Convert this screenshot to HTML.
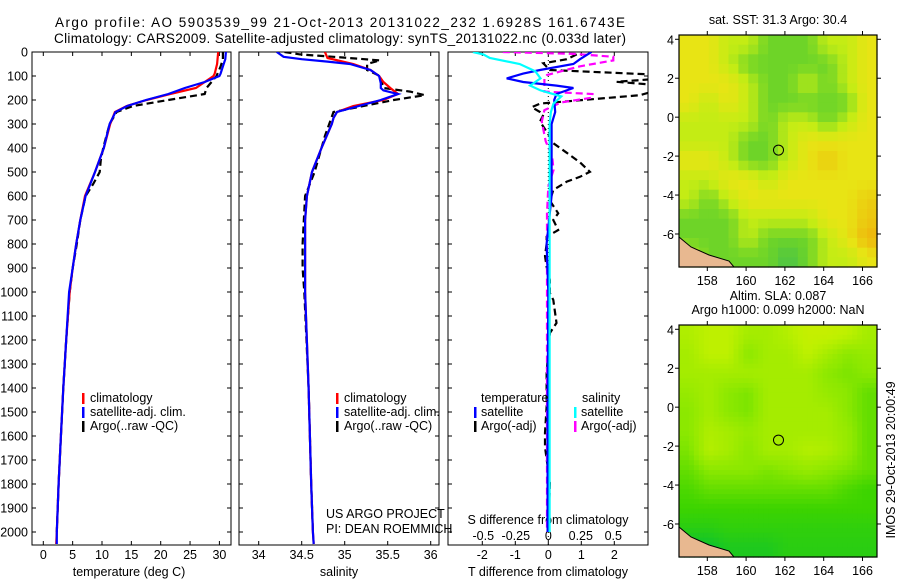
<!DOCTYPE html>
<html><head><meta charset="utf-8">
<style>
html,body{margin:0;padding:0;background:#fff;}
svg{display:block;font-family:"Liberation Sans",sans-serif;}
text{font-size:12.5px;fill:#000;}
</style></head>
<body>
<svg id="fig" width="900" height="580" viewBox="0 0 900 580" xmlns="http://www.w3.org/2000/svg">
<text x="340" y="27" text-anchor="middle" textLength="570" lengthAdjust="spacing" style="font-size:13.5px">Argo profile: AO 5903539_99 21-Oct-2013 20131022_232 1.6928S 161.6743E</text>
<text x="340" y="43" text-anchor="middle" textLength="572" lengthAdjust="spacing" style="font-size:13.5px">Climatology: CARS2009. Satellite-adjusted climatology: synTS_20131022.nc (0.033d later)</text>
<g id="g"></g>
</svg>
<script>
// ---------- data ----------
const tDepthRed = [0,50,90,100,150,175,200,225,250,275,300,400,500,600,700,800,900,1000,1200,1400,1600,1800,2000,2050];
const tempRed   = [29.8,29.6,29.2,29,26,21.6,17.6,14.2,12.2,11.8,11.4,10.3,8.8,7.1,6.3,5.6,5.0,4.5,3.9,3.4,3.0,2.6,2.3,2.2];
const tDepthBlue = [0,30,60,90,100,125,150,175,200,225,250,275,300,400,500,600,700,800,900,1000,1200,1400,1600,1800,2000,2050];
const tempBlue   = [31.1,31.0,30.6,30.2,30,27.5,24.1,21.3,17.5,14.3,12.3,11.8,11.3,10.3,8.8,7.2,6.3,5.6,5.0,4.4,3.9,3.4,3.0,2.6,2.3,2.3];
const tDepthArgo = [0,30,60,100,150,175,200,225,250,275,300,400,450,500,550,600,700,800,900,1000,1200,1400,1600,1800,2000];
const tempArgo   = [30.6,30.6,30.2,29.5,27.8,27.5,21.3,15.3,12.5,11.9,11.3,10.2,9.8,9.6,8.5,7.2,6.3,5.7,5.0,4.5,3.9,3.4,3.0,2.6,2.3];

const sDepthRed = [0,25,50,75,100,125,150,175,200,225,250,275,300,400,500,600,700,1000,1400,1800,2000,2050];
const salRed    = [34.77,34.8,35.1,35.3,35.4,35.45,35.53,35.62,35.45,35.1,34.91,34.87,34.85,34.73,34.62,34.56,34.54,34.54,34.58,34.61,34.63,34.64];
const sDepthBlue = [0,20,30,40,50,75,100,130,150,160,175,200,250,275,300,400,500,600,700,1000,1400,1800,2000,2050];
const salBlue    = [34.21,34.29,34.5,34.8,35.06,35.3,35.4,35.42,35.42,35.45,35.62,35.42,34.91,34.87,34.85,34.73,34.62,34.56,34.54,34.54,34.58,34.61,34.63,34.64];
const sDepthArgo = [0,10,20,35,50,75,100,150,165,180,200,250,350,500,600,800,900,1000,1400,1800,2000];
const salArgo    = [34.3,34.48,34.87,35.41,35.26,35.26,35.41,35.45,35.76,35.93,35.57,34.87,34.77,34.65,34.54,34.51,34.51,34.53,34.58,34.61,34.63];

const dDepthTsat = [0,30,50,75,90,110,125,140,150,175,200,250,300,600,800,1000,1500,2000];
const diffTsat   = [1.31,0.96,0.76,-0.25,-0.76,-1.26,-0.76,0.25,0.76,0.25,0.18,0.21,0.1,0.1,-0.05,0,-0.02,-0.02];
const dDepthTargo = [10,30,47,75,96,110,124,140,151,180,200,215,230,250,262,290,311,353,380,420,460,499,520,540,575,620,672,700,742,770,800,850,895,950,1005,1033,1129,1171,1337,1479,1587,1646,1796,2000];
const diffTargo   = [0.86,0.56,-0.15,0.05,3.5,3.5,2.07,3.5,3.5,2.78,1.05,-0.25,-0.5,-0.25,-0.15,-0.25,-0.15,0.05,0.15,0.56,0.96,1.26,0.96,0.56,0.15,0.05,0.3,0.15,0.3,-0.05,-0.05,-0.1,-0.05,0.05,0.05,0.15,0.25,0.05,-0.05,-0.05,-0.1,-0.1,0.05,0];
const dDepthSsat = [0,10,25,50,80,110,140,160,185,215,250,300,1000,2000];
const diffSsat   = [-0.58,-0.5,-0.45,-0.22,-0.1,-0.06,-0.14,-0.06,0.1,0.04,0.02,0.01,0.01,0.01];
const dDepthSargo = [0,8,20,35,60,96,110,165,175,190,210,242,290,345,372,436,492,561,672,1000,2000];
const diffSargo   = [-0.35,0.2,0.5,0.5,0.24,-0.01,-0.03,-0.03,0.34,0.34,0.1,-0.03,-0.05,-0.03,-0.02,0.03,0.04,0.0,-0.01,-0.01,-0.01];

const depthTicks = [0,100,200,300,400,500,600,700,800,900,1000,1100,1200,1300,1400,1500,1600,1700,1800,1900,2000];
const tempTicks = [0,5,10,15,20,25,30];
const salTicks = [34,34.5,35,35.5,36];
const tdiffTicks = [-2,-1,0,1,2];
const sdiffTicks = [-0.5,-0.25,0,0.25,0.5];
const sdiffTickLabels = ['-0.5','-0.25','0','0.25','0.5'];
const lonTicks = [158,160,162,164,166];
const latTicks = [4,2,0,-2,-4,-6];
const argoLon = 161.67, argoLat = -1.69;

// SST map grid (0=orange,1=yellow,2=yellow-green,3=green,4=teal), rows north->south
const sstGrid = [
[1,1,2,2,3,3,3,2,2,1],
[1,1,2,3,3,3,3,3,2,1],
[1,1,1,2,3,3,2,3,2,1],
[1,2,1,2,3,3,3,3,3,1],
[2,2,2,2,3,2,2,3,2,1],
[2,2,2,3,3,2,1,1,1,1],
[1,1,2,3,3,2,1,0.5,1,1],
[2,2,1,1,2,1,1,1,1,1],
[2,3,2,1,1,1,1,1,1,0.6],
[3,3,3,2,2,2,2,1,1,0.5],
[3,3,3,2,3,3,3,2,1,0.2],
[2,3,3,3,3,3.5,3,2,2,1]];
// SLA map grid (1=yellow-green ... 4=green)
const slaGrid = [
[1.3,1,1,1.5,1.5,1.2,0.8,0.8,1,1.5],
[1.5,1,1,2,1.5,1.5,1,1.5,2,1.8],
[1.5,1.5,1.5,1.5,1.5,1.5,1.5,2,2.2,2],
[1.8,1.5,2,2.2,1.5,1.5,1.5,1.8,2,2.5],
[2,1.5,2,2.2,1.5,1.5,1.5,1.5,2,2.5],
[2,1.3,1.5,1.8,1.5,1.5,1.5,1.5,1.8,2.5],
[2.2,1.2,1.5,2,1.5,1.5,1.2,1.3,1.8,2.5],
[2.5,2,2,2,2.2,2,1.8,2,2.2,2.5],
[2.8,2.5,2.5,2.5,2.5,2.5,2.5,2.5,2.8,3],
[3,3,3,3,3,3,3,3,3,3],
[3.3,3.3,3.2,3.2,3.2,3.2,3.2,3.2,3.2,3.2],
[3.8,3.8,3.5,3.5,3.5,3.3,3.3,3.3,3.3,3.3]];

// ---------- helpers ----------
const NS = 'http://www.w3.org/2000/svg';
const G = document.getElementById('g');
function mk(tag, attrs, parent){const e=document.createElementNS(NS,tag);for(const k in attrs)e.setAttribute(k,attrs[k]);(parent||G).appendChild(e);return e;}
function txt(x,y,s,anchor,size){const t=mk('text',{x:x,y:y,'text-anchor':anchor||'middle'});if(size)t.style.fontSize=size+'px';t.textContent=s;return t;}
const yTop=52, pxPerM=0.24, yBot=545;
const yD = d => yTop + d*pxPerM;
const xT = v => 43.3 + v*5.87;
const xS = v => 258.7 + (v-34)*86;
const xTd = v => 548.3 + v*33;
const xSd = v => 548.3 + v*130;

function frame(x0,x1,name){
  const r=mk('rect',{x:x0,y:yTop,width:x1-x0,height:yBot-yTop,fill:'none',stroke:'#000','stroke-width':1});
  
  
}
function line(depths, vals, xf, color, dash, name, clipId){
  let d='';
  for(let i=0;i<depths.length;i++){d+=(i?'L':'M')+xf(vals[i]).toFixed(1)+','+yD(depths[i]).toFixed(1);}
  const p=mk('path',{d:d,fill:'none',stroke:color,'stroke-width':2.2});
  if(dash)p.setAttribute('stroke-dasharray',dash);
  if(clipId)p.setAttribute('clip-path','url(#'+clipId+')');
  
  
}
const defs=mk('defs',{});
[['c1',32,231],['c2',239,439],['c3',448,648]].forEach(c=>{const cp=mk('clipPath',{id:c[0]},defs);mk('rect',{x:c[1],y:yTop,width:c[2]-c[1],height:yBot-yTop},cp);});

// ---------- depth axis ----------
depthTicks.forEach(d=>{const t=txt(28,yD(d)+4.5,String(d),'end');
  
  });
[[32,231],[239,439],[448,648]].forEach(p=>{depthTicks.forEach(d=>{mk('line',{x1:p[0],x2:p[0]+4,y1:yD(d),y2:yD(d),stroke:'#000'});mk('line',{x1:p[1],x2:p[1]-4,y1:yD(d),y2:yD(d),stroke:'#000'});});});

// ---------- panel 1 temperature ----------
frame(32,231,'temperature-panel');
tempTicks.forEach(v=>{mk('line',{x1:xT(v),x2:xT(v),y1:yBot,y2:yBot-4,stroke:'#000'});mk('line',{x1:xT(v),x2:xT(v),y1:yTop,y2:yTop+4,stroke:'#000'});
  const t=txt(xT(v),559,String(v));
  
  });
let t1=txt(129,576,'temperature (deg C)');


line(tDepthArgo,tempArgo,xT,'#000','7,4','temperature-argo-line','c1');
line(tDepthRed,tempRed,xT,'#f00',null,'temperature-climatology-line','c1');
line(tDepthBlue,tempBlue,xT,'#00f',null,'temperature-satellite-line','c1');

// ---------- panel 2 salinity ----------
frame(239,439,'salinity-panel');
salTicks.forEach(v=>{mk('line',{x1:xS(v),x2:xS(v),y1:yBot,y2:yBot-4,stroke:'#000'});mk('line',{x1:xS(v),x2:xS(v),y1:yTop,y2:yTop+4,stroke:'#000'});
  const t=txt(xS(v),559,String(v));
  
  });
let t2=txt(339,576,'salinity');


line(sDepthArgo,salArgo,xS,'#000','7,4','salinity-argo-line','c2');
line(sDepthRed,salRed,xS,'#f00',null,'salinity-climatology-line','c2');
line(sDepthBlue,salBlue,xS,'#00f',null,'salinity-satellite-line','c2');
let t3=txt(326,518,'US ARGO PROJECT','start');


let t4=txt(326,533,'PI: DEAN ROEMMICH','start');



// legends panels 1 & 2
[[82,'temp'],[336,'sal']].forEach(L=>{
  [['#f00','climatology'],['#00f','satellite-adj. clim.'],['#000','Argo(..raw -QC)']].forEach((e,i)=>{
    const y=402+i*14;
    mk('rect',{x:L[0],y:y-9,width:2.5,height:11,fill:e[0]});
    const t=txt(L[0]+8,y,e[1],'start');
    
    
  });
});

// ---------- panel 3 differences ----------
frame(448,648,'difference-panel');
mk('line',{x1:xTd(0),x2:xTd(0),y1:yTop,y2:yBot,stroke:'#000','stroke-dasharray':'1,3'});
tdiffTicks.forEach(v=>{mk('line',{x1:xTd(v),x2:xTd(v),y1:yBot,y2:yBot-4,stroke:'#000'});mk('line',{x1:xTd(v),x2:xTd(v),y1:yTop,y2:yTop+4,stroke:'#000'});
  const t=txt(xTd(v),559,String(v));
  
  });
sdiffTicks.forEach((v,i)=>{const t=txt(xSd(v),540,sdiffTickLabels[i]);
  
  });
let t5=txt(548,524,'S difference from climatology');


let t6=txt(548,576,'T difference from climatology');


line(dDepthTargo,diffTargo,xTd,'#000','7,4','t-diff-argo-line','c3');
line(dDepthSargo,diffSargo,xSd,'#f0f','7,4','s-diff-argo-line','c3');
line(dDepthTsat,diffTsat,xTd,'#00f',null,'t-diff-satellite-line','c3');
line(dDepthSsat,diffSsat,xSd,'#0ff',null,'s-diff-satellite-line','c3');
let lt=txt(481,402,'temperature','start');


let ls=txt(582,402,'salinity','start');


[[474,'#00f','satellite',416],[474,'#000','Argo(-adj)',430],[574,'#0ff','satellite',416],[574,'#f0f','Argo(-adj)',430]].forEach(e=>{
  mk('rect',{x:e[0],y:e[3]-9,width:2.5,height:11,fill:e[1]});
  const t=txt(e[0]+7,e[3],e[2],'start');
  
  
});

// ---------- maps ----------
const mX0=679, mX1=877;
const xLon = v => 707.3 + (v-158)*19.4;
function lerpC(stops, v){
  for(let i=0;i<stops.length-1;i++){const a=stops[i],b=stops[i+1];
    if(v<=b[0]){const f=Math.max(0,(v-a[0])/(b[0]-a[0]));return 'rgb('+[0,1,2].map(k=>Math.round(a[1][k]+(b[1][k]-a[1][k])*f)).join(',')+')';}}
  return 'rgb('+stops[stops.length-1][1].join(',')+')';
}
const sstStops=[[0,[240,170,10]],[1,[232,228,20]],[2,[196,236,20]],[3,[110,212,40]],[4,[40,180,100]]];
const slaStops=[[0,[225,235,0]],[1,[190,240,0]],[2,[140,232,0]],[3,[60,212,0]],[4,[0,190,60]]];
function sampleGrid(grid, fr, fc){
  const rows=grid.length, cols=grid[0].length;
  const r=Math.min(Math.max(fr,0),rows-1), c=Math.min(Math.max(fc,0),cols-1);
  const r0=Math.floor(r), c0=Math.floor(c), r1=Math.min(r0+1,rows-1), c1=Math.min(c0+1,cols-1);
  const a=r-r0, b=c-c0;
  return grid[r0][c0]*(1-a)*(1-b)+grid[r0][c1]*(1-a)*b+grid[r1][c0]*a*(1-b)+grid[r1][c1]*a*b;
}
function map(yT, grid, stops, name, title1, title2, up){
  const yB=yT+232, lat0=4.22, latPx=19.47;
  const yLat = v => yT + (lat0-v)*latPx;
  const rows=grid.length*up, cols=grid[0].length*up, cw=(mX1-mX0)/cols, ch=(yB-yT)/rows;
  for(let r=0;r<rows;r++)for(let c=0;c<cols;c++){
    const v=sampleGrid(grid,(r+0.5)/up-0.5,(c+0.5)/up-0.5);
    const cell=mk('rect',{x:(mX0+c*cw).toFixed(1),y:(yT+r*ch).toFixed(1),width:(cw+0.6).toFixed(1),height:(ch+0.6).toFixed(1),fill:lerpC(stops,v)});
    
    
  }
  const land=mk('path',{d:`M${mX0},${yB-30} L${mX0+12},${yB-20} L${mX0+30},${yB-12} L${mX0+50},${yB-6} L${mX0+55},${yB} L${mX0},${yB} Z`,fill:'#e8b890',stroke:'#000','stroke-width':1});
  
  
  const fr=mk('rect',{x:mX0,y:yT,width:mX1-mX0,height:yB-yT,fill:'none',stroke:'#000','stroke-width':1.2});
  
  
  lonTicks.forEach(v=>{mk('line',{x1:xLon(v),x2:xLon(v),y1:yB,y2:yB+4,stroke:'#000'});mk('line',{x1:xLon(v),x2:xLon(v),y1:yT,y2:yT-4,stroke:'#000'});
    const t=txt(xLon(v),yB+18,String(v));
    
    });
  latTicks.forEach(v=>{mk('line',{x1:mX0,x2:mX0-4,y1:yLat(v),y2:yLat(v),stroke:'#000'});mk('line',{x1:mX1,x2:mX1+4,y1:yLat(v),y2:yLat(v),stroke:'#000'});
    const t=txt(674,yLat(v)+5,String(v),'end');
    
    });
  const c=mk('circle',{cx:xLon(argoLon),cy:yLat(argoLat),r:5,fill:'none',stroke:'#000','stroke-width':1});
  
  
  const a=txt(778,yT-11-(title2?14:0),title1);
  
  
  if(title2){const b=txt(778,yT-11,title2);
    
    }
}
map(35, sstGrid, sstStops, 'sst-map', 'sat. SST: 31.3 Argo: 30.4', null, 2);
map(325, slaGrid, slaStops, 'sla-map', 'Altim. SLA: 0.087', 'Argo h1000: 0.099 h2000: NaN', 4);

const ts=mk('text',{x:0,y:0,transform:'translate(895,460) rotate(-90)','text-anchor':'middle'});
ts.textContent='IMOS 29-Oct-2013 20:00:49';


</script>
</body></html>
